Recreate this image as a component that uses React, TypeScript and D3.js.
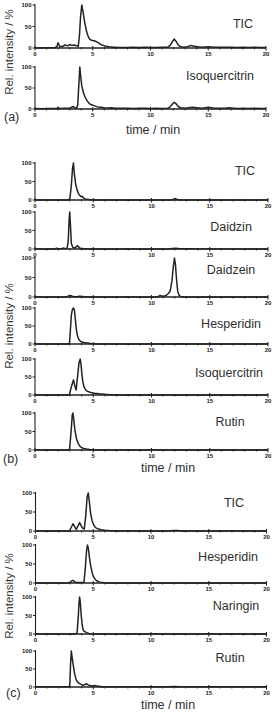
import React from "react";
import * as d3 from "d3";

type Pt = [number, number];

// ---- data (time / min, relative intensity / %) ----
const X_TICKS = [0, 5, 10, 15, 20];
const Y_TICKS = [0, 50, 100];
const MINOR_TICKS = [1, 2, 3, 4, 6, 7, 8, 9, 11, 12, 13, 14, 16, 17, 18, 19];

const A_TIC: Pt[] = [[0,0],[1,0.5],[1.7,0.5],[1.9,4],[2.0,12],[2.15,3],[2.4,4],[2.6,7],[2.8,5],[3.0,8],[3.2,6],[3.4,7],[3.6,5],[3.75,4],[3.85,30],[3.95,75],[4.05,100],[4.15,85],[4.3,60],[4.45,40],[4.6,27],[4.75,20],[4.9,18],[5.1,17],[5.3,15],[5.5,12],[5.7,8],[5.9,6],[6.1,4],[6.4,3],[6.8,2],[7.3,1],[8,1],[8.5,2],[9,1],[9.5,1.5],[10,1],[10.5,1],[11,1.5],[11.5,2],[11.7,6],[11.9,15],[12.05,21],[12.2,16],[12.4,7],[12.6,3],[12.9,2],[13.2,3],[13.5,6],[13.8,4],[14.1,3],[14.5,2],[15,3],[15.5,2],[16,2],[16.5,1.5],[17,2],[17.5,1],[18,2],[18.5,1],[19,2],[19.5,1],[20,1]];
const A_ISO: Pt[] = [[0,1],[0.5,0.5],[1,1],[1.5,1],[1.9,1],[2.0,4],[2.1,1],[2.5,2],[2.8,1.5],[3.1,3],[3.3,6],[3.45,3],[3.6,2],[3.7,10],[3.8,60],[3.88,100],[3.95,80],[4.05,55],[4.2,38],[4.35,28],[4.5,20],[4.7,13],[4.9,10],[5.1,8],[5.4,5],[5.7,4],[6,3],[6.3,2.5],[6.6,3],[7,2],[7.5,1.5],[8,2],[8.5,1],[9,2],[9.5,1.5],[10,1],[10.5,2],[11,1],[11.5,2],[11.7,5],[11.9,12],[12.05,16],[12.2,13],[12.4,6],[12.6,3],[13,2],[13.3,3],[13.6,4],[14,3],[14.5,2],[15,4],[15.5,2],[16,1.5],[16.5,2],[16.8,3],[17.2,2],[17.6,1],[18,2],[18.5,1],[19,1.5],[19.5,1],[20,1]];

const B_TIC: Pt[] = [[0,0],[2,0],[2.9,0],[3.0,5],[3.12,40],[3.22,85],[3.3,100],[3.38,70],[3.48,45],[3.6,28],[3.72,18],[3.85,12],[3.95,9],[4.05,10],[4.15,6],[4.3,3],[4.5,2],[4.8,1],[5.2,0],[11.7,0],[11.9,2],[12.0,4],[12.15,2],[12.4,0],[20,0]];
const B_DAIDZIN: Pt[] = [[0,0],[1.7,0],[1.85,2],[2.0,0.5],[2.3,1],[2.45,2.5],[2.6,1],[2.75,2],[2.85,20],[2.93,80],[2.98,100],[3.05,60],[3.12,15],[3.25,4],[3.45,3],[3.58,7],[3.66,9],[3.76,5],[3.9,2],[4.2,1],[4.5,0],[11.5,0],[11.8,1.5],[12.1,2],[12.4,0.5],[13.0,1],[13.5,0.5],[20,0]];
const B_DAIDZEIN: Pt[] = [[0,0],[2.7,0],[2.9,3],[3.05,4],[3.2,2],[3.5,0],[3.8,2],[4.1,1.5],[4.4,0],[10.5,0],[10.75,4],[10.9,2],[11.2,3],[11.45,9],[11.6,15],[11.75,40],[11.88,80],[11.97,100],[12.05,85],[12.15,45],[12.25,15],[12.35,5],[12.5,1],[12.8,0],[20,0]];
const B_HESP: Pt[] = [[0,0],[2.9,0],[2.97,5],[3.05,45],[3.12,80],[3.2,95],[3.3,100],[3.38,95],[3.46,70],[3.55,40],[3.65,22],[3.78,12],[3.95,6],[4.2,4],[4.5,3],[4.8,1.5],[5.1,0.5],[5.5,0],[12,0],[12.4,1],[12.8,0],[20,0]];
const B_ISO: Pt[] = [[0,0],[2.9,0],[2.96,2],[3.1,20],[3.3,42],[3.42,25],[3.53,14],[3.65,50],[3.78,90],[3.88,100],[3.95,85],[4.02,60],[4.1,38],[4.2,23],[4.35,14],[4.5,10],[4.8,7],[5.1,5],[5.5,3.5],[6,2],[6.5,1],[7,0],[20,0]];
const B_RUTIN: Pt[] = [[0,0],[2.9,0],[2.97,3],[3.1,50],[3.2,95],[3.25,100],[3.32,85],[3.42,55],[3.55,32],[3.7,18],[3.88,9],[4.1,5],[4.4,3],[4.7,1.5],[5,0.5],[5.3,0],[20,0]];

const C_TIC: Pt[] = [[0,0],[2.9,0],[2.97,2],[3.25,19],[3.53,4],[3.82,22],[4.05,8],[4.22,5],[4.35,40],[4.47,90],[4.57,100],[4.67,75],[4.78,45],[4.9,27],[5.05,15],[5.2,9],[5.45,5],[5.7,3.5],[6.0,2],[6.4,1],[6.8,0.5],[7.2,0],[11.5,0],[11.9,1.5],[12.3,1],[12.7,0],[20,0]];
const C_HESP: Pt[] = [[0,0],[2.8,0],[3.0,2],[3.15,6],[3.25,7],[3.4,3],[3.6,1],[4.1,1],[4.2,3],[4.3,35],[4.42,85],[4.5,100],[4.58,90],[4.68,65],[4.78,45],[4.9,28],[5.0,18],[5.15,10],[5.3,6],[5.5,3],[5.8,1],[6.2,0],[20,0]];
const C_NAR: Pt[] = [[0,0],[3.5,0],[3.6,3],[3.7,45],[3.78,90],[3.82,100],[3.88,85],[3.96,50],[4.04,25],[4.12,12],[4.22,7],[4.35,5],[4.5,3],[4.7,1],[5.0,0],[12,0],[12.5,1],[13,0],[20,0]];
const C_RUTIN: Pt[] = [[0,0.5],[1,0.5],[2,1],[2.9,0.5],[2.97,5],[3.03,60],[3.1,100],[3.18,80],[3.28,58],[3.4,35],[3.53,19],[3.7,12],[3.9,8],[4.1,5],[4.25,6],[4.4,9],[4.55,6],[4.7,4],[4.9,3],[5.1,4],[5.3,3],[5.5,2],[5.7,0.5],[6.5,1],[7.5,0.5],[8.5,1],[9.5,0.5],[10.5,1],[11.5,0.5],[12,1.5],[12.5,1],[13.5,0.5],[14.5,1],[15.5,0.5],[16.5,1],[17.5,0.5],[18.5,1],[19.5,0.5],[20,0.5]];

const SECTION_LABELS = ["(a)", "(b)", "(c)"];
const X_TITLE = "time / min";
const Y_TITLE = "Rel. intensity / %";

// ---- layout ----
const FONT = "'Liberation Sans', Arial, Helvetica, sans-serif";
const INK = "#222";

interface Panel { data: Pt[]; name: string; y0: number; y100: number; lx: number; ly: number; }
interface Section {
  label: string; xr: [number, number]; panels: Panel[];
  lab: [number, number]; title: [number, number]; ytitle: [number, number];
}

const SECTIONS: Section[] = [
  {
    label: SECTION_LABELS[0], xr: [35, 266], lab: [4, 121], title: [153, 134], ytitle: [13, 52],
    panels: [
      { data: A_TIC, name: "TIC", y0: 48, y100: 5, lx: 243, ly: 28 },
      { data: A_ISO, name: "Isoquercitrin", y0: 109, y100: 67, lx: 220, ly: 80 },
    ],
  },
  {
    label: SECTION_LABELS[1], xr: [35, 268], lab: [3, 463], title: [168, 472], ytitle: [13, 326],
    panels: [
      { data: B_TIC, name: "TIC", y0: 200, y100: 163, lx: 245, ly: 175 },
      { data: B_DAIDZIN, name: "Daidzin", y0: 249, y100: 212, lx: 231, ly: 231 },
      { data: B_DAIDZEIN, name: "Daidzein", y0: 297, y100: 258, lx: 231, ly: 274 },
      { data: B_HESP, name: "Hesperidin", y0: 344, y100: 308, lx: 231, ly: 328 },
      { data: B_ISO, name: "Isoquercitrin", y0: 395, y100: 359, lx: 229, ly: 377 },
      { data: B_RUTIN, name: "Rutin", y0: 450, y100: 413, lx: 230, ly: 426 },
    ],
  },
  {
    label: SECTION_LABELS[2], xr: [35.5, 266.5], lab: [6, 697], title: [168, 709], ytitle: [13, 596],
    panels: [
      { data: C_TIC, name: "TIC", y0: 531, y100: 493, lx: 234, ly: 507 },
      { data: C_HESP, name: "Hesperidin", y0: 583, y100: 545, lx: 228, ly: 561 },
      { data: C_NAR, name: "Naringin", y0: 634, y100: 597, lx: 236, ly: 610 },
      { data: C_RUTIN, name: "Rutin", y0: 687, y100: 651, lx: 230, ly: 662 },
    ],
  },
];

function PanelView({ p, xr }: { p: Panel; xr: [number, number] }) {
  const x = d3.scaleLinear().domain([0, 20]).range(xr);
  const y = d3.scaleLinear().domain([0, 100]).range([p.y0, p.y100]);
  const line = d3.line<Pt>().x((d) => x(d[0])).y((d) => y(d[1]));
  return (
    <g>
      <path d={line(p.data) || ""} fill="none" stroke={INK} strokeWidth={1.5} strokeLinejoin="round" />
      {/* y axis */}
      <line x1={x(0)} x2={x(0)} y1={y(0)} y2={y(100) - 1} stroke={INK} strokeWidth={1.1} />
      {Y_TICKS.map((t) => (
        <g key={"y" + t}>
          <line x1={x(0) - 2.5} x2={x(0)} y1={y(t)} y2={y(t)} stroke={INK} strokeWidth={1} />
          <text x={x(0) - 3.5} y={y(t) + 2} fontSize={6} fontWeight="bold" textAnchor="end" fill={INK} fontFamily={FONT}>{t}</text>
        </g>
      ))}
      {/* x axis */}
      <line x1={x(0)} x2={x(20)} y1={y(0)} y2={y(0)} stroke={INK} strokeWidth={1.3} />
      {MINOR_TICKS.map((t) => (
        <line key={"m" + t} x1={x(t)} x2={x(t)} y1={y(0) - 1} y2={y(0) + 1.5} stroke={INK} strokeWidth={0.9} />
      ))}
      {X_TICKS.map((t) => (
        <g key={"x" + t}>
          <line x1={x(t)} x2={x(t)} y1={y(0) - 2} y2={y(0) + 2.5} stroke={INK} strokeWidth={1} />
          <text x={x(t)} y={y(0) + 7.5} fontSize={6} fontWeight="bold" textAnchor="middle" fill={INK} fontFamily={FONT}>{t}</text>
        </g>
      ))}
      <text x={p.lx} y={p.ly} fontSize={12.5} textAnchor="middle" fill="#2e2e2e" fontFamily={FONT}>{p.name}</text>
    </g>
  );
}

export default function App() {
  return (
    <svg width={274} height={712} viewBox="0 0 274 712" style={{ position: "absolute", left: 0, top: 0, background: "#fff" }}>
      <rect width={274} height={712} fill="#fff" />
      {SECTIONS.map((s, i) => (
        <g key={i}>
          {s.panels.map((p, j) => <PanelView key={j} p={p} xr={s.xr} />)}
          <text x={s.lab[0]} y={s.lab[1]} fontSize={12.5} fill="#2e2e2e" fontFamily={FONT}>{s.label}</text>
          <text x={s.title[0]} y={s.title[1]} fontSize={12.5} textAnchor="middle" fill="#2e2e2e" fontFamily={FONT}>{X_TITLE}</text>
          <text transform={`translate(${s.ytitle[0]},${s.ytitle[1]}) rotate(-90)`} fontSize={11.5} textAnchor="middle" fill="#3a3a3a" fontFamily={FONT}>{Y_TITLE}</text>
        </g>
      ))}
    </svg>
  );
}
